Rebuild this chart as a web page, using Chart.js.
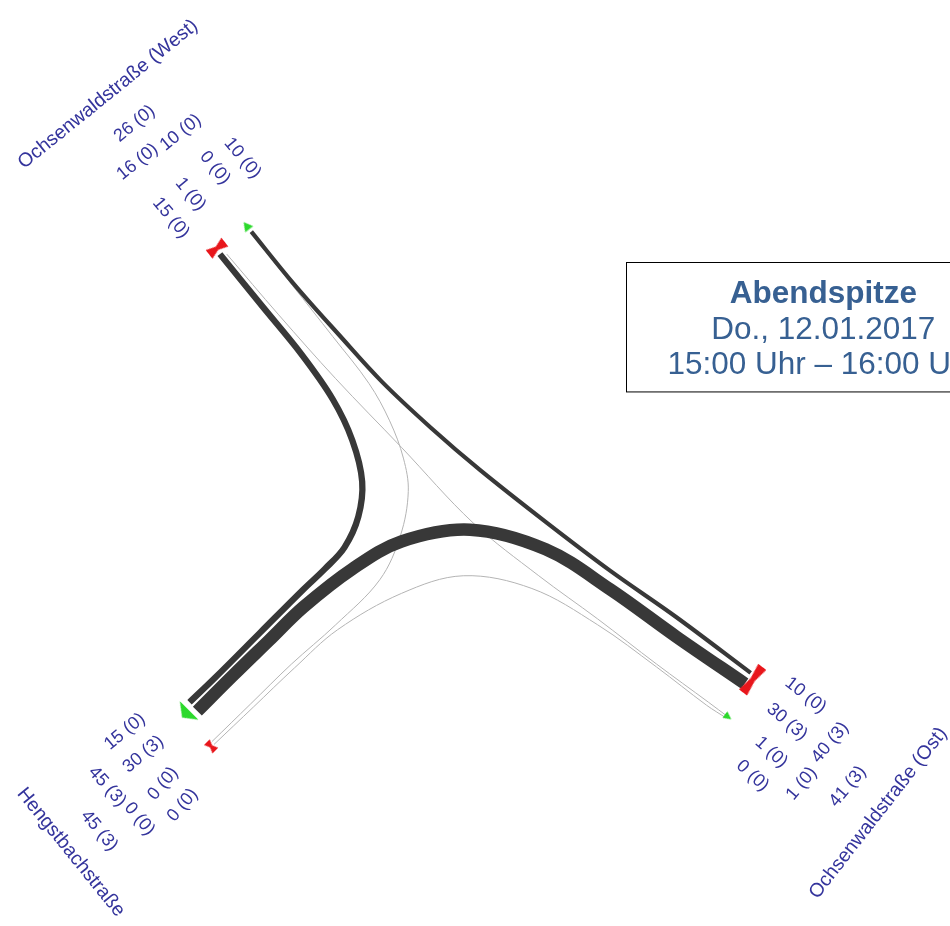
<!DOCTYPE html>
<html>
<head>
<meta charset="utf-8">
<script src="https://cdn.jsdelivr.net/npm/chart.js@4.4.1/dist/chart.umd.min.js"></script>
<style>
  body { margin: 0; background: #fff; }
  #wrap { width: 950px; height: 926px; }
</style>
</head>
<body>
<div id="wrap"><canvas id="c" width="950" height="926"></canvas></div>
<script>
// arms of the junction
var armWest = 'Ochsenwaldstraße (West)';
var armOst = 'Ochsenwaldstraße (Ost)';
var armHengst = 'Hengstbachstraße';

// turning movements: vehicles and heavy vehicles (in brackets)
var moveNames = ['West-Hengst', 'West-Ost', 'Ost-West', 'Ost-Hengst', 'Hengst-West', 'Hengst-Ost'];
var moveCars = [15, 1, 10, 30, 0, 0];
var moveHeavy = [0, 0, 0, 3, 0, 0];

// traced route of each movement (x, y in diagram units)
var routeWestHengst = [[215,250],[258,303],[298,352],[330,398],[350,440],[360,482],[356,518],[342,549],[322,571],[300,592],[256,636],[210,682],[184,707]];
var routeWestOst = [[222,250],[275,312],[333,377],[400,447],[473,524],[540,578],[600,622],[660,668],[713,707],[733,722]];
var routeOstWest = [[756,677],[680,620],[613,573],[547,523],[480,470],[430,427],[380,380],[337,333],[290,280],[247,227]];
var routeOstHengst = [[750,688],[680,640],[613,592],[547,551],[470,531],[400,543],[350,571],[300,610],[265,644],[228,680],[192,716]];
var routeHengstWest = [[207,747],[246,709],[288,668],[333,628],[378,582],[399,537],[407,492],[402,458],[388,420],[367,382],[330,334],[289,282],[247,229]];
var routeHengstOst = [[209,750],[249,712],[291,672],[335,633],[400,596],[463,578],[533,591],[600,628],[660,671],[711,710],[731,723]];
var movePaths = [routeWestHengst, routeWestOst, routeOstWest, routeOstHengst, routeHengstWest, routeHengstOst];

var title = 'Abendspitze';
var dateText = 'Do., 12.01.2017';
var timeText = '15:00 Uhr – 16:00 Uhr';

function fmt(cars, heavy) {
  return cars + ' (' + heavy + ')';
}
function sumOf(idx) {
  var c = 0, h = 0;
  idx.forEach(function(i) { c += moveCars[i]; h += moveHeavy[i]; });
  return { c: c, h: h };
}

// little marker images
function makeBowtie(len, thick, pinch) {
  var cv = document.createElement('canvas');
  cv.width = len + 2; cv.height = thick + 2;
  var g = cv.getContext('2d');
  var cx = cv.width / 2, cy = cv.height / 2;
  g.fillStyle = '#e8161b';
  g.beginPath();
  g.moveTo(1, cy - thick / 2);
  g.lineTo(cx, cy - pinch / 2);
  g.lineTo(cv.width - 1, cy - thick / 2);
  g.lineTo(cv.width - 1, cy + thick / 2);
  g.lineTo(cx, cy + pinch / 2);
  g.lineTo(1, cy + thick / 2);
  g.closePath();
  g.fill();
  return cv;
}
function makeArrow(len, base) {
  var cv = document.createElement('canvas');
  cv.width = len * 2 + 2; cv.height = base + 2;
  var g = cv.getContext('2d');
  var cx = cv.width / 2, cy = cv.height / 2;
  g.fillStyle = '#2bd92b';
  g.beginPath();
  g.moveTo(cx - len / 2, cy - base / 2);
  g.lineTo(cx + len / 2, cy);
  g.lineTo(cx - len / 2, cy + base / 2);
  g.closePath();
  g.fill();
  return cv;
}

var markers = [
  { x: 212, y: 244, img: makeBowtie(20, 11, 4), rot: -38 },
  { x: 758, y: 684, img: makeBowtie(32, 10, 5), rot: -53 },
  { x: 206, y: 752, img: makeBowtie(12, 8, 3), rot: 45 },
  { x: 242, y: 221, img: makeArrow(9, 10), rot: -128 },
  { x: 733, y: 722, img: makeArrow(8, 8), rot: 37 },
  { x: 180, y: 719, img: makeArrow(10, 26), rot: 135 }
];

var datasets = [];
movePaths.forEach(function(path, i) {
  var v = moveCars[i];
  var thin = v < 5;
  datasets.push({
    label: moveNames[i],
    data: path.map(function(p) { return { x: p[0], y: p[1] }; }),
    showLine: true,
    tension: 0.35,
    borderColor: thin ? '#b4b4b4' : '#383838',
    borderWidth: thin ? 1 : v * 0.42,
    borderCapStyle: 'butt',
    pointRadius: 0,
    order: thin ? 3 : 2
  });
});
markers.forEach(function(m) {
  datasets.push({
    data: [{ x: m.x, y: m.y }],
    pointStyle: m.img,
    pointRotation: m.rot,
    pointRadius: 8,
    showLine: false,
    order: 1
  });
});

var textPlugin = {
  id: 'texts',
  afterDraw: function(chart) {
    var ctx = chart.ctx;
    var sx = chart.scales.x, sy = chart.scales.y;
    var blue = '#34349c';
    var numFont = '18px Arial, "Liberation Sans", sans-serif';
    var nameFont = '19.5px Arial, "Liberation Sans", sans-serif';
    var wIn = sumOf([0, 1]), wOut = sumOf([2, 4]);
    var oIn = sumOf([2, 3]), oOut = sumOf([1, 5]);
    var hIn = sumOf([4, 5]), hOut = sumOf([0, 3]);
    var items = [
      [armWest, 101, 87, -39, nameFont],
      [fmt(wIn.c + wOut.c, wIn.h + wOut.h), 128, 117, -39, numFont],
      [fmt(wIn.c, wIn.h), 131, 156, -39, numFont],
      [fmt(wOut.c, wOut.h), 175, 126, -39, numFont],
      [fmt(moveCars[0], moveHeavy[0]), 165, 213, 50, numFont],
      [fmt(moveCars[1], moveHeavy[1]), 185, 189, 50, numFont],
      [fmt(moveCars[4], moveHeavy[4]), 210, 162, 50, numFont],
      [fmt(moveCars[2], moveHeavy[2]), 238, 152, 50, numFont],

      [fmt(moveCars[2], moveHeavy[2]), 812, 700, 38, numFont],
      [fmt(moveCars[3], moveHeavy[3]), 793, 727, 40, numFont],
      [fmt(moveCars[1], moveHeavy[1]), 777, 758, 42, numFont],
      [fmt(moveCars[5], moveHeavy[5]), 758, 782, 42, numFont],
      [fmt(oIn.c, oIn.h), 837, 748, -50, numFont],
      [fmt(oOut.c, oOut.h), 808, 790, -50, numFont],
      [fmt(oIn.c + oOut.c, oIn.h + oOut.h), 855, 793, -50, numFont],
      [armOst, 886, 820, -52, nameFont],

      [fmt(moveCars[0], moveHeavy[0]), 118, 737, -40, numFont],
      [fmt(moveCars[3], moveHeavy[3]), 137, 760, -40, numFont],
      [fmt(moveCars[4], moveHeavy[4]), 157, 790, -50, numFont],
      [fmt(moveCars[5], moveHeavy[5]), 177, 812, -50, numFont],
      [fmt(hOut.c, hOut.h), 100, 793, 48, numFont],
      [fmt(hIn.c, hIn.h), 133, 826, 50, numFont],
      [fmt(hIn.c + hOut.c, hIn.h + hOut.h), 92, 838, 50, numFont],
      [armHengst, 63, 860, 51, nameFont]
    ];
    ctx.save();
    ctx.fillStyle = blue;
    ctx.textAlign = 'center';
    ctx.textBaseline = 'middle';
    items.forEach(function(it) {
      ctx.save();
      ctx.translate(sx.getPixelForValue(it[1]), sy.getPixelForValue(it[2]));
      ctx.rotate(it[3] * Math.PI / 180);
      ctx.font = it[4];
      ctx.fillText(it[0], 0, 0);
      ctx.restore();
    });

    // info box
    var bx = sx.getPixelForValue(629), by = sy.getPixelForValue(258);
    var bx2 = sx.getPixelForValue(960), by2 = sy.getPixelForValue(390);
    ctx.fillStyle = '#fff';
    ctx.fillRect(bx, by, bx2 - bx, by2 - by);
    ctx.strokeStyle = '#000';
    ctx.lineWidth = 1;
    ctx.strokeRect(Math.round(bx) + 0.5, Math.round(by) + 0.5, bx2 - bx, by2 - by);
    ctx.fillStyle = '#376092';
    ctx.textBaseline = 'alphabetic';
    var cx = sx.getPixelForValue(830);
    ctx.font = 'bold 31.5px Arial, "Liberation Sans", sans-serif';
    ctx.fillText(title, cx, sy.getPixelForValue(300));
    ctx.font = '31.5px Arial, "Liberation Sans", sans-serif';
    ctx.fillText(dateText, cx, sy.getPixelForValue(337));
    ctx.fillText(timeText, cx, sy.getPixelForValue(372));
    ctx.restore();
  }
};

new Chart(document.getElementById('c'), {
  type: 'scatter',
  data: { datasets: datasets },
  options: {
    responsive: false,
    animation: false,
    events: [],
    layout: { padding: 0 },
    plugins: { legend: { display: false }, tooltip: { enabled: false } },
    scales: {
      x: { type: 'linear', min: 0, max: 950, display: false },
      y: { type: 'linear', min: 0, max: 926, reverse: true, display: false }
    }
  },
  plugins: [textPlugin]
});
</script>
</body>
</html>
